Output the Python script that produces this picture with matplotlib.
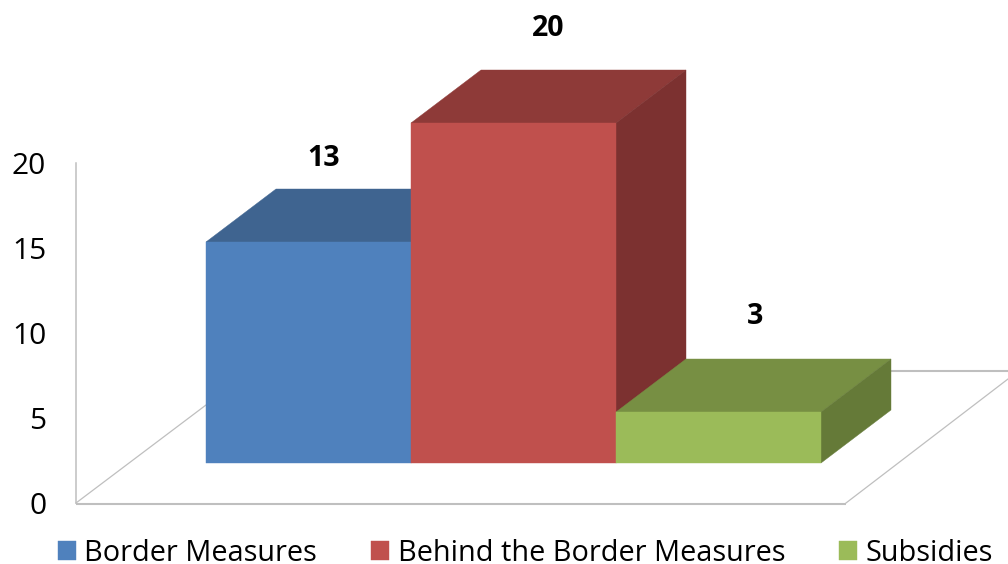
import matplotlib
matplotlib.use("Agg")
import matplotlib.pyplot as plt

# --- data ---
categories = ["Border Measures", "Behind the Border Measures", "Subsidies"]
values = [13, 20, 3]
y_ticks = [0, 5, 10, 15, 20]

# --- style ---
front_colors = ["#4F81BD", "#C0504D", "#9BBB59"]
top_colors = ["#3F6490", "#8E3A38", "#778F43"]
side_colors = ["#345376", "#7C3130", "#657A38"]
grid_color = "#BFBFBF"
label_offsets = [(-20, 30), (0, 41), (2, 42)]  # px from bar's back top centre

W, H = 1008, 564
plt.rcParams["font.family"] = ["Open Sans", "DejaVu Sans"]
fig = plt.figure(figsize=(W / 100, H / 100), dpi=100, facecolor="white")

# Oblique projection layout (pixels)
X0, BAR_W = 206, 205
Y0, PX_PER_UNIT = 463, 17
DEPTH_X, DEPTH_Y = 70 / BAR_W, 53 / PX_PER_UNIT


def px_x(p):
    return (p - X0) / BAR_W


def px_y(p):
    return (Y0 - p) / PX_PER_UNIT


ax = fig.add_axes([0, 0, 1, 1])
ax.set_xlim(px_x(0), px_x(W))
ax.set_ylim(px_y(H), px_y(0))
ax.axis("off")

# Floor and back wall lines
ax.plot([px_x(76), px_x(846)], [px_y(503.5)] * 2, color=grid_color, lw=1.5, solid_capstyle="butt", zorder=1)
ax.plot([px_x(76), px_x(206)], [px_y(503), px_y(405)], color=grid_color, lw=0.9, zorder=1)
ax.plot([px_x(846), px_x(1008)], [px_y(503), px_y(379)], color=grid_color, lw=0.9, zorder=1)
ax.plot([px_x(891), px_x(1008)], [px_y(370.5)] * 2, color=grid_color, lw=1.5, solid_capstyle="butt", zorder=1)

# Bars
handles = []
for i, (cat, v) in enumerate(zip(categories, values)):
    z = 2 + i
    l, r = i, i + 1
    ax.fill([l, r, r + DEPTH_X, l + DEPTH_X], [v, v, v + DEPTH_Y, v + DEPTH_Y],
            color=top_colors[i], lw=0.3, zorder=z)
    ax.fill([r, r + DEPTH_X, r + DEPTH_X, r], [0, DEPTH_Y, v + DEPTH_Y, v],
            color=side_colors[i], lw=0.3, zorder=z)
    h = ax.fill([l, r, r, l], [0, 0, v, v], color=front_colors[i], lw=0.3, zorder=z + 0.5, label=cat)[0]
    handles.append(h)
    ox, oy = label_offsets[i]
    ax.annotate(str(v), xy=(l + 0.5 + DEPTH_X / 2, v + DEPTH_Y), xytext=(ox * 0.72, oy * 0.72),
                textcoords="offset points", ha="center", va="center",
                fontsize=20.5, fontweight="bold", color="black", zorder=10)

# Value axis
ay = fig.add_axes([76 / W, 1 - 503 / H, 0.001, 340 / H])
ay.patch.set_alpha(0)
ay.set_ylim(0, 20)
ay.set_xticks([])
ay.set_yticks(y_ticks)
ay.tick_params(axis="y", length=0, pad=21.5, labelsize=21.5, labelcolor="black")
for s in ["top", "right", "bottom"]:
    ay.spines[s].set_visible(False)
ay.spines["left"].set_color(grid_color)
ay.spines["left"].set_linewidth(1.1)

# Legend
fig.legend(handles, categories, ncol=3, loc="lower left",
           bbox_to_anchor=(58 / W, -4 / H), frameon=False, fontsize=20.8,
           handlelength=0.62, handleheight=0.62, handletextpad=0.29,
           columnspacing=1.88, borderpad=0, borderaxespad=0, labelcolor="black")

fig.savefig("out.png", dpi=100)
